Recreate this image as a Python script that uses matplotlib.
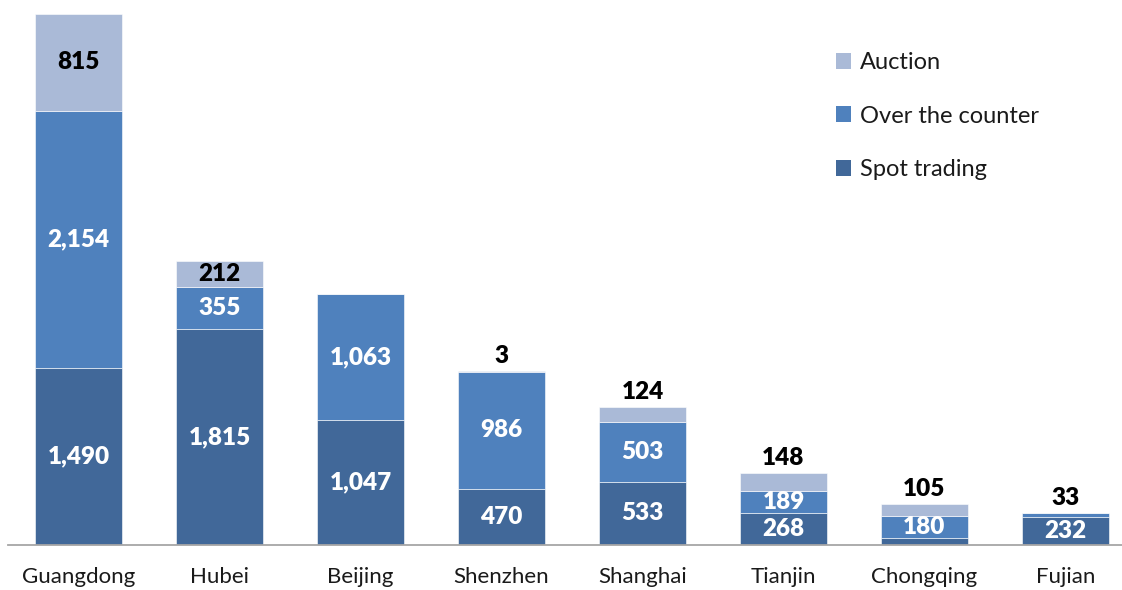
import matplotlib
matplotlib.use("Agg")
import matplotlib.pyplot as plt
from matplotlib.patches import Patch
import numpy as np

plt.rcParams['font.family'] = ['Lato', 'DejaVu Sans']

regions = ["Guangdong", "Hubei", "Beijing", "Shenzhen", "Shanghai",
           "Tianjin", "Chongqing", "Fujian"]
spot_trading = [1490, 1815, 1047, 470, 533, 268, 60, 232]
over_the_counter = [2154, 355, 1063, 986, 503, 189, 180, 33]
auction = [815, 212, 0, 3, 124, 148, 105, 0]

series_names = ["Spot trading", "Over the counter", "Auction"]
series_colors = ["#416899", "#4F81BD", "#AABAD7"]
label_colors = ["white", "white", "black"]

W, H, DPI = 1122, 590, 100
fig = plt.figure(figsize=(W / DPI, H / DPI), dpi=DPI)
ax = fig.add_axes([8 / W, (H - 545) / H, 1128 / W, 545 / H])

x = np.arange(len(regions))
bar_w = 0.617
series = [spot_trading, over_the_counter, auction]
bottoms = np.zeros(len(regions))
tops = np.array([s + o + a for s, o, a in zip(*series)], dtype=float)
label_kw = dict(fontsize=17.5, fontweight="heavy", zorder=3)

for k, vals in enumerate(series):
    vals = np.array(vals, dtype=float)
    ax.bar(x, vals, bar_w, bottom=bottoms, color=series_colors[k],
           edgecolor="white", linewidth=0.4, zorder=2)
    for i, v in enumerate(vals):
        if v <= 0:
            continue
        is_top = bottoms[i] + v >= tops[i] - 1e-9
        inside = v >= (200 if is_top else 150)
        if inside:
            ax.text(x[i], bottoms[i] + v / 2, f"{int(v):,}", ha="center",
                    va="center", color=label_colors[k], **label_kw)
        elif is_top:
            ax.annotate(f"{int(v):,}", (x[i], tops[i]), xytext=(0, 3),
                        textcoords="offset points", ha="center", va="bottom",
                        color="black", **label_kw)
    bottoms = bottoms + vals

ax.set_xlim(-0.5, len(regions) - 0.5)
ax.set_ylim(0, 4576)
for side in ("left", "right", "top"):
    ax.spines[side].set_visible(False)
ax.spines["bottom"].set_color("#A6A6A6")
ax.spines["bottom"].set_linewidth(1.3)
ax.set_yticks([])
ax.set_xticks(x)
ax.set_xticklabels(regions, fontsize=16, color="#1A1A1A")
ax.tick_params(axis="x", length=0, pad=16)

handles = [Patch(facecolor=series_colors[k], edgecolor="none")
           for k in (2, 1, 0)]
labels = [series_names[k] for k in (2, 1, 0)]
fig.legend(handles, labels, loc="upper left",
           bbox_to_anchor=(836 / W, 1 - 52 / H), frameon=False,
           fontsize=17, handlelength=0.65, handleheight=0.65,
           handletextpad=0.35, labelspacing=1.38, borderpad=0,
           borderaxespad=0, labelcolor="#1A1A1A")

fig.savefig("out.png", dpi=DPI)
